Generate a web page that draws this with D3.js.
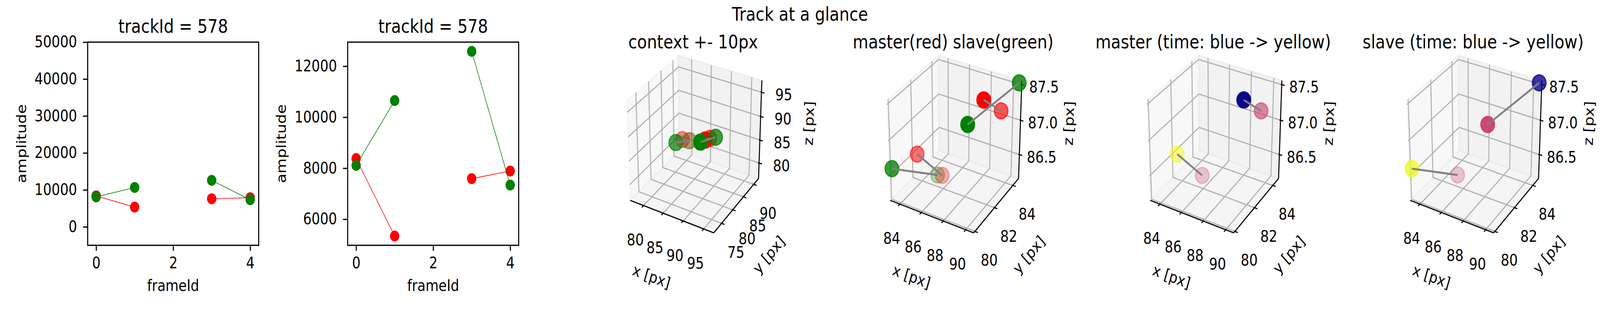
<!DOCTYPE html>
<html>
<head>
<meta charset="utf-8">
<script src="https://cdn.jsdelivr.net/npm/d3@7"></script>
<style>
  html, body { margin: 0; padding: 0; background: #fff; overflow: hidden; }
  svg { display: block; width: 100vw; height: 100vh; }
</style>
</head>
<body>
<svg id="fig" viewBox="0 0 4800 800" preserveAspectRatio="none"></svg>
<script>
// ---------- data ----------
const trackId = 578;
const frames = [0, 1, 2, 3, 4];
const masterAmp = [8378, 5339, null, 7591, 7890];
const slaveAmp = [8110, 10654, null, 12583, 7339];

// 3d positions of master / slave detections [px]
const masterX = [89.06, 89.33, null, 85.17, 83.91];
const masterY = [82.64, 84.18, null, 82.77, 81.65];
const masterZ = [87.48, 87.13, null, 86.17, 86.59];
const slaveX = [90.55, 88.32, null, 85.0, 83.24];
const slaveY = [84.56, 81.9, null, 82.49, 79.98];
const slaveZ = [87.53, 87.21, null, 86.21, 86.6];
// colour value per frame on the plasma map (blue -> yellow)
const timeColor = [0, 0.5, null, 0.5, 1];

const contextCenter = [87, 82, 87];
const contextHalf = 10;

const frameDomain = [-0.22, 4.22];
const frameTicks = [0, 2, 4];
const ampFullDomain = [-5000, 50000];
const ampFullTicks = [0, 10000, 20000, 30000, 40000, 50000];
const ampTicks = [6000, 8000, 10000, 12000];

const ctxXTicks = [80, 85, 90, 95];
const ctxYTicks = [75, 80, 85, 90];
const ctxZTicks = [80, 85, 90, 95];
const zoomXTicks = [84, 86, 88, 90];
const zoomYTicks = [80, 82, 84];
const zoomZTicks = [86.5, 87.0, 87.5];

// ---------- layout ----------
// drawn in a 4800x800 user space; the viewBox stretches it to the window
const W = 4800, H = 800;
const FONT = "DejaVu Sans";
const axW = 513, axH = 521, axTop = 108, axLeft0 = 263, axStep = 780;

const svg = d3.select("#fig").attr("font-family", FONT);
svg.append("rect").attr("width", W).attr("height", H).attr("fill", "#fff");

svg.append("text")
    .attr("x", W / 2).attr("y", 53)
    .attr("text-anchor", "middle")
    .attr("font-size", 48)
    .text("Track at a glance");

// ---------- 2d amplitude panels ----------
function drawAmplitude(i, yDomain, yTicks) {
    const left = axLeft0 + i * axStep;
    const g = svg.append("g").attr("transform", `translate(${left},${axTop})`);
    const x = d3.scaleLinear().domain(frameDomain).range([0, axW]);
    const y = d3.scaleLinear().domain(yDomain).range([axH, 0]);

    const series = [
        { amp: masterAmp, color: "red" },
        { amp: slaveAmp, color: "green" },
    ];

    series.forEach((s) => {
        g.append("g")
            .selectAll("circle")
            .data(frames.map((f, k) => [f, s.amp[k]]).filter((d) => d[1] != null))
            .join("circle")
            .attr("cx", (d) => x(d[0]))
            .attr("cy", (d) => y(d[1]))
            .attr("r", 14)
            .attr("fill", s.color);
    });

    const line = d3.line()
        .defined((d) => d[1] != null)
        .x((d) => x(d[0]))
        .y((d) => y(d[1]));
    series.forEach((s) => {
        g.append("path")
            .datum(frames.map((f, k) => [f, s.amp[k]]))
            .attr("d", line)
            .attr("fill", "none")
            .attr("stroke", s.color)
            .attr("stroke-width", 1.7);
    });

    const ax = g.append("g")
        .attr("transform", `translate(0,${axH})`)
        .call(d3.axisBottom(x).tickValues(frameTicks).tickSize(14).tickPadding(17).tickFormat(d3.format("d")));
    const ay = g.append("g")
        .call(d3.axisLeft(y).tickValues(yTicks).tickSize(14).tickPadding(18).tickFormat(d3.format("d")));
    [ax, ay].forEach((a) => {
        a.attr("font-size", 40).attr("font-family", FONT);
        a.select(".domain").remove();
        a.selectAll(".tick line").attr("stroke", "#000").attr("stroke-width", 3.2);
        a.selectAll(".tick text").attr("fill", "#000");
    });

    g.append("rect")
        .attr("width", axW).attr("height", axH)
        .attr("fill", "none").attr("stroke", "#000").attr("stroke-width", 3.2);

    g.append("text")
        .attr("x", axW / 2).attr("y", 84 - axTop)
        .attr("text-anchor", "middle").attr("font-size", 48)
        .text(`trackId = ${trackId}`);
    g.append("text")
        .attr("x", axW / 2).attr("y", 746 - axTop)
        .attr("text-anchor", "middle").attr("font-size", 40)
        .text("frameId");
    g.append("text")
        .attr("transform", `translate(-199,${axH / 2}) rotate(-90)`)
        .attr("text-anchor", "middle").attr("dominant-baseline", "central")
        .attr("font-size", 40)
        .text("amplitude");
}

const allAmp = masterAmp.concat(slaveAmp).filter((v) => v != null);
const ampExt = d3.extent(allAmp);
const ampPad = (ampExt[1] - ampExt[0]) * 0.05;

drawAmplitude(0, ampFullDomain, ampFullTicks);
drawAmplitude(1, [ampExt[0] - ampPad, ampExt[1] + ampPad], ampTicks);

// ---------- 3d panels (elev 30, azim -60, perspective dist 10) ----------
const ELEV = (30 * Math.PI) / 180, AZIM = (-60 * Math.PI) / 180, DIST = 10;
const dot = (a, b) => a[0] * b[0] + a[1] * b[1] + a[2] * b[2];
const cross = (a, b) => [a[1] * b[2] - a[2] * b[1], a[2] * b[0] - a[0] * b[2], a[0] * b[1] - a[1] * b[0]];
const unit = (a) => { const l = Math.hypot(...a); return a.map((c) => c / l); };
const nVec = [Math.cos(AZIM) * Math.cos(ELEV), Math.sin(AZIM) * Math.cos(ELEV), Math.sin(ELEV)];
const uVec = unit(cross([0, 0, 1], nVec));
const vVec = cross(nVec, uVec);
const E = 0.5 * (1 + 1 / 24); // panes sit slightly outside the data box

function projector(left, domains) {
    const s = domains.map((d) => d3.scaleLinear().domain(d).range([-0.5, 0.5]));
    const sx = d3.scaleLinear().domain([-0.095, 0.09]).range([left, left + axW]);
    const sy = d3.scaleLinear().domain([-0.095, 0.09]).range([axTop + axH, axTop]);
    const pn = (p) => {
        const w = DIST - dot(nVec, p);
        return { x: sx(dot(uVec, p) / w), y: sy(dot(vVec, p) / w), depth: dot(nVec, p) };
    };
    const pd = (x, y, z) => pn([s[0](x), s[1](y), s[2](z)]);
    return { s, pn, pd };
}

function trackPoints(xs, ys, zs) {
    return frames.map((f, k) => (xs[k] == null ? null : { x: xs[k], y: ys[k], z: zs[k], t: timeColor[k] }));
}
const masterPts = trackPoints(masterX, masterY, masterZ);
const slavePts = trackPoints(slaveX, slaveY, slaveZ);

function drawTrack3d(i, title, domains, ticks, fmts, scatters, lines) {
    const left = axLeft0 + i * axStep;
    const P = projector(left, domains);
    const g = svg.append("g");
    const pathOf = (pts) => d3.line().x((p) => p.x).y((p) => p.y)(pts);

    // panes
    const panes = [
        { c: [[-E, -E, -E], [-E, E, -E], [-E, E, E], [-E, -E, E]], fill: "rgba(242,242,242,0.5)" },
        { c: [[-E, E, -E], [E, E, -E], [E, E, E], [-E, E, E]], fill: "rgba(230,230,230,0.5)" },
        { c: [[-E, -E, -E], [E, -E, -E], [E, E, -E], [-E, E, -E]], fill: "rgba(236,236,236,0.5)" },
    ];
    panes.forEach((p) => {
        g.append("path")
            .attr("d", pathOf(p.c.map(P.pn)) + "Z")
            .attr("fill", p.fill).attr("stroke", p.fill).attr("stroke-width", 4);
    });

    // grid
    const grid = g.append("g").attr("fill", "none").attr("stroke", "#b0b0b0").attr("stroke-width", 3);
    ticks[0].forEach((t) => {
        const a = P.s[0](t);
        grid.append("path").attr("d", pathOf([[a, -E, -E], [a, E, -E], [a, E, E]].map(P.pn)));
    });
    ticks[1].forEach((t) => {
        const b = P.s[1](t);
        grid.append("path").attr("d", pathOf([[E, b, -E], [-E, b, -E], [-E, b, E]].map(P.pn)));
    });
    ticks[2].forEach((t) => {
        const c = P.s[2](t);
        grid.append("path").attr("d", pathOf([[-E, -E, c], [-E, E, c], [E, E, c]].map(P.pn)));
    });

    // axis lines, ticks, labels
    const axisG = g.append("g").attr("stroke", "#000").attr("fill", "none");
    const axes = [
        { a: [-E, -E, -E], b: [E, -E, -E], at: (v) => [v, -E, -E], tick: (v) => [[v, -E - 0.035, -E], [v, -E + 0.012, -E]], off: [-24.5, 88], loff: [-58.6, 154.5], label: "x [px]" },
        { a: [E, -E, -E], b: [E, E, -E], at: (v) => [E, v, -E], tick: (v) => [[E + 0.035, v, -E], [E - 0.012, v, -E]], off: [43, 74], loff: [95.7, 128.4], label: "y [px]" },
        { a: [E, E, -E], b: [E, E, E], at: (v) => [E, E, v], tick: (v) => [[E + 0.035, E, v], [E - 0.012, E, v]], off: [67, 6.5], loff: [146, -18.7], label: "z [px]" },
    ];
    axes.forEach((ax, k) => {
        const pa = P.pn(ax.a), pb = P.pn(ax.b);
        axisG.append("path").attr("d", pathOf([pa, pb])).attr("stroke-width", 3);
        ticks[k].forEach((t) => {
            const v = P.s[k](t);
            axisG.append("path").attr("d", pathOf(ax.tick(v).map(P.pn))).attr("stroke-width", 3);
            const q = P.pn(ax.at(v));
            g.append("text")
                .attr("x", q.x + ax.off[0]).attr("y", q.y + ax.off[1])
                .attr("text-anchor", "middle").attr("dominant-baseline", "central")
                .attr("font-size", 40)
                .text(fmts[k](t));
        });
        let ang = (Math.atan2(pb.y - pa.y, pb.x - pa.x) * 180) / Math.PI;
        if (ang > 90) ang -= 180;
        if (ang < -90) ang += 180;
        const m = P.pn(ax.at(0));
        g.append("text")
            .attr("transform", `translate(${m.x + ax.loff[0]},${m.y + ax.loff[1]}) rotate(${ang})`)
            .attr("text-anchor", "middle").attr("dominant-baseline", "central")
            .attr("font-size", 40)
            .text(ax.label);
    });

    // scatter collections, depth shaded; farther collection first
    const cols = scatters.map((sc) => {
        const pts = sc.pts.filter((p) => p != null).map((p) => Object.assign({ color: sc.color(p) }, P.pd(p.x, p.y, p.z)));
        return { pts, near: d3.max(pts, (p) => p.depth) };
    });
    cols.sort((a, b) => a.near - b.near);
    cols.forEach((col) => {
        const [dMin, dMax] = d3.extent(col.pts, (p) => p.depth);
        const alpha = (p) => (dMax > dMin ? 1 - (0.7 * (dMax - p.depth)) / (dMax - dMin) : 1);
        g.append("g")
            .selectAll("circle")
            .data(col.pts)
            .join("circle")
            .attr("cx", (p) => p.x).attr("cy", (p) => p.y).attr("r", 20.5)
            .attr("fill", (p) => p.color).attr("fill-opacity", alpha)
            .attr("stroke", (p) => p.color).attr("stroke-opacity", alpha)
            .attr("stroke-width", 3.5);
    });

    // track lines
    const line = d3.line().defined((p) => p != null).x((p) => p.x).y((p) => p.y);
    lines.forEach((pts) => {
        g.append("path")
            .attr("d", line(pts.map((p) => (p == null ? null : P.pd(p.x, p.y, p.z)))))
            .attr("fill", "none").attr("stroke", "gray").attr("stroke-width", 5);
    });

    g.append("text")
        .attr("x", left + axW / 2).attr("y", 124)
        .attr("text-anchor", "middle").attr("font-size", 48)
        .text(title);
}

const fmtInt = d3.format("d");
const fmt1 = d3.format(".1f");
const ctxDomains = contextCenter.map((c) => [c - contextHalf, c + contextHalf]);
const both = masterPts.concat(slavePts).filter((p) => p != null);
const zoomDomains = [
    d3.extent(both, (p) => p.x),
    d3.extent(both, (p) => p.y),
    d3.extent(both, (p) => p.z),
];
const red = () => "red", green = () => "green";
const plasma = (p) => d3.interpolatePlasma(p.t);

drawTrack3d(2, "context +- 10px", ctxDomains, [ctxXTicks, ctxYTicks, ctxZTicks], [fmtInt, fmtInt, fmtInt],
    [{ pts: masterPts, color: red }, { pts: slavePts, color: green }], [masterPts, slavePts]);
drawTrack3d(3, "master(red) slave(green)", zoomDomains, [zoomXTicks, zoomYTicks, zoomZTicks], [fmtInt, fmtInt, fmt1],
    [{ pts: masterPts, color: red }, { pts: slavePts, color: green }], [masterPts, slavePts]);
drawTrack3d(4, "master (time: blue -> yellow)", zoomDomains, [zoomXTicks, zoomYTicks, zoomZTicks], [fmtInt, fmtInt, fmt1],
    [{ pts: masterPts, color: plasma }], [masterPts]);
drawTrack3d(5, "slave (time: blue -> yellow)", zoomDomains, [zoomXTicks, zoomYTicks, zoomZTicks], [fmtInt, fmtInt, fmt1],
    [{ pts: slavePts, color: plasma }], [slavePts]);
</script>
</body>
</html>
